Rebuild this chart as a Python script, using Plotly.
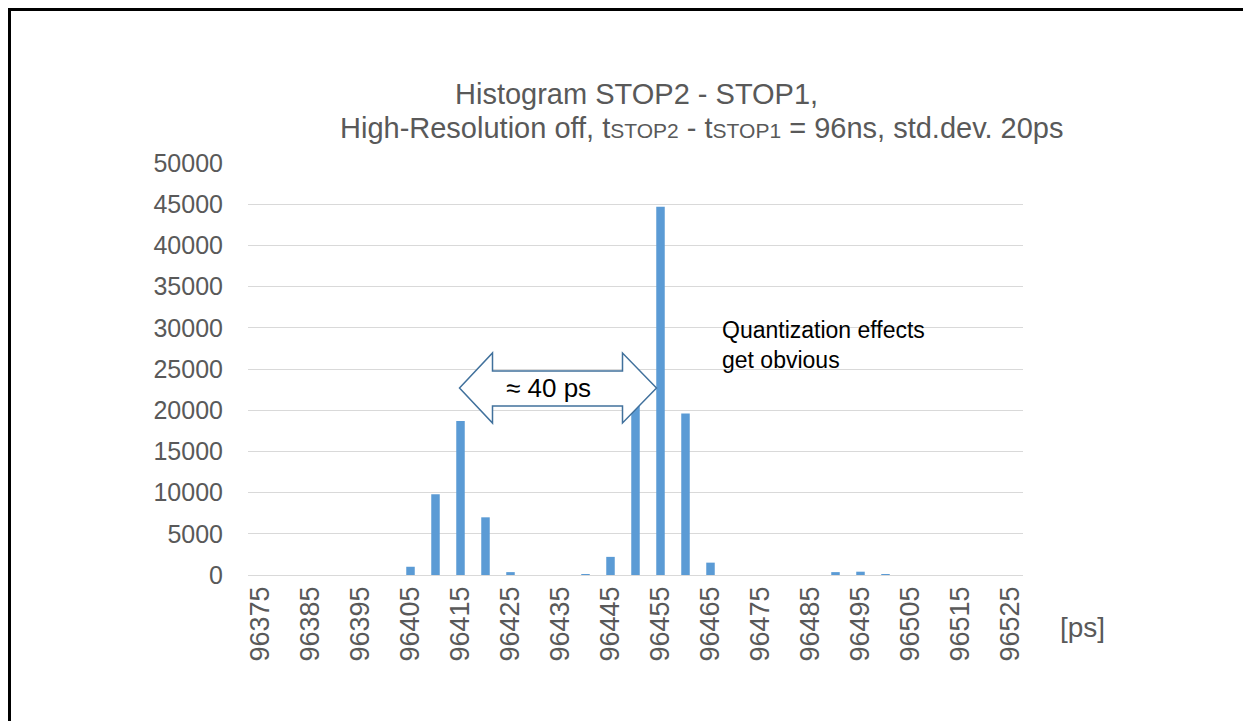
import plotly.graph_objects as go

# histogram bins [ps] and counts
bins_ps = [96375, 96380, 96385, 96390, 96395, 96400, 96405, 96410, 96415, 96420,
           96425, 96430, 96435, 96440, 96445, 96450, 96455, 96460, 96465, 96470,
           96475, 96480, 96485, 96490, 96495, 96500, 96505, 96510, 96515, 96520,
           96525]
counts = [0, 0, 0, 0, 0, 0, 1000, 9800, 18700, 7000,
          350, 0, 0, 100, 2200, 21000, 44700, 19600, 1500, 0,
          0, 0, 0, 350, 400, 60, 0, 0, 0, 0,
          0]
y_ticks = [0, 5000, 10000, 15000, 20000, 25000, 30000, 35000, 40000, 45000, 50000]

FONT = "Liberation Sans, Arial, sans-serif"
GREY = "#595959"
BAR = "#5B9BD5"
ARROW = "#41719C"

# plot area in screen pixels (page body adds an 8px offset)
OFF = 8
L, R, T, B = 248, 1023, 163, 575
W, H = 1251 - OFF, 721 - OFF


def px_x(px):
    return (px - L) / (R - L)


def px_y(py):
    return (B - py) / (B - T)


def dx(px):
    return 96375 + (px - 258) / 5.0


def dy(py):
    return (B - py) / (B - T) * 50000


fig = go.Figure()
fig.add_trace(go.Bar(x=bins_ps, y=counts, marker_color=BAR, marker_line_width=0))

# double arrow "~40 ps"
pts = [(457, 388), (490, 353), (490, 371), (620, 371), (620, 353), (654, 388),
       (620, 423), (620, 406), (490, 406), (490, 423)]
path = "M " + " L ".join(f"{dx(a):.3f},{dy(b):.1f}" for a, b in pts) + " Z"

shapes = [
    # frame
    dict(type="rect", xref="paper", yref="paper",
         x0=px_x(9.5), x1=px_x(1249.5), y0=px_y(740), y1=px_y(9.5),
         line=dict(color="black", width=3), fillcolor="rgba(0,0,0,0)", layer="above"),
    # white box behind the note text
    dict(type="rect", xref="paper", yref="paper",
         x0=px_x(696), x1=px_x(957), y0=px_y(392), y1=px_y(305),
         line=dict(width=0), fillcolor="white", layer="between"),
    dict(type="path", xref="x", yref="y", path=path,
         line=dict(color=ARROW, width=1.5), fillcolor="white", layer="above"),
]

annotations = [
    dict(text="Histogram STOP2 - STOP1,", xref="paper", yref="paper",
         x=px_x(453), y=px_y(94), xanchor="left", yanchor="middle", showarrow=False,
         font=dict(family=FONT, size=29, color=GREY)),
    dict(text="High-Resolution off, t<span style='font-size:21px'>STOP2</span> - "
              "t<span style='font-size:21px'>STOP1</span> = 96ns, std.dev. 20ps",
         xref="paper", yref="paper", x=px_x(338), y=px_y(128),
         xanchor="left", yanchor="middle", showarrow=False,
         font=dict(family=FONT, size=29, color=GREY)),
    dict(text="[ps]", xref="paper", yref="paper", x=px_x(1058), y=px_y(627),
         xanchor="left", yanchor="middle", showarrow=False,
         font=dict(family=FONT, size=28, color=GREY)),
    dict(text="Quantization effects<br>get obvious", xref="paper", yref="paper",
         x=px_x(720), y=px_y(345), xanchor="left", yanchor="middle", align="left",
         showarrow=False, font=dict(family=FONT, size=23, color="black")),
    dict(text="\u2248 40 ps", xref="x", yref="y", x=dx(546), y=dy(388),
         xanchor="center", yanchor="middle", showarrow=False,
         font=dict(family=FONT, size=26, color="black")),
]

fig.update_layout(
    width=W, height=H,
    margin=dict(l=L - OFF, r=W - (R - OFF), t=T - OFF, b=H - (B - OFF), pad=0),
    paper_bgcolor="white", plot_bgcolor="white",
    showlegend=False,
    bargap=0.66,
    shapes=shapes,
    annotations=annotations,
    xaxis=dict(
        range=[96372.5, 96527.5], tick0=96375, dtick=10, tickangle=-90,
        tickformat="d",
        showgrid=False, zeroline=False, showline=False, ticks="",
        ticklabelstandoff=5,
        tickfont=dict(family=FONT, size=27, color=GREY),
    ),
    yaxis=dict(
        range=[0, 50000], tickvals=y_ticks, tickformat="d",
        showgrid=True, gridcolor="#D9D9D9",
        gridwidth=1, zeroline=True, zerolinecolor="#D9D9D9", zerolinewidth=1,
        showline=False, ticks="", ticklabelstandoff=24,
        tickfont=dict(family=FONT, size=25, color=GREY),
    ),
)

fig.write_html("out.html")
